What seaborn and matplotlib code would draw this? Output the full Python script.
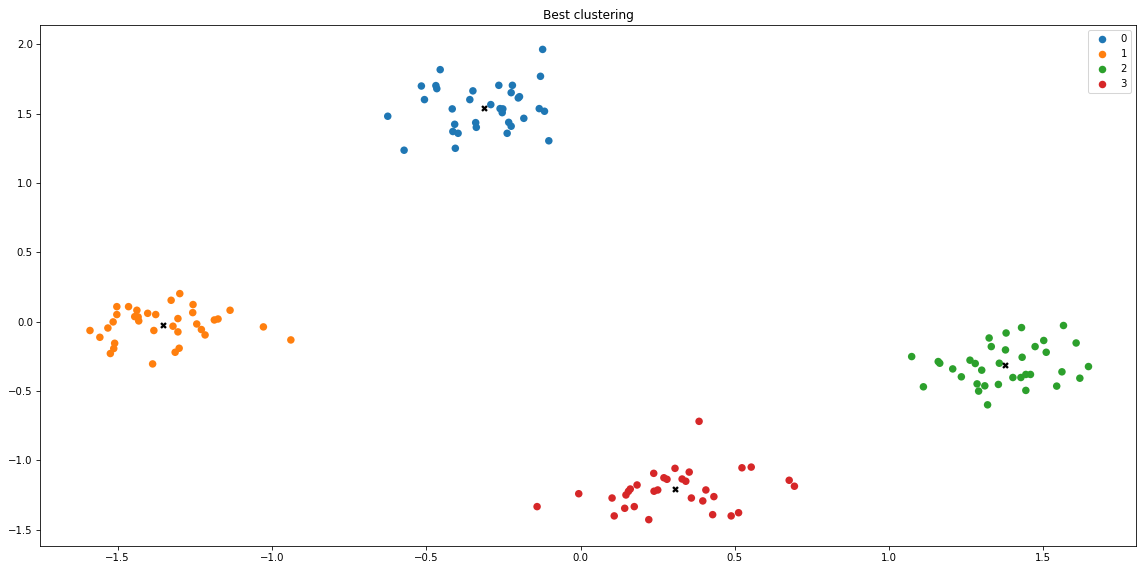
import numpy as np
import pandas as pd
import matplotlib
matplotlib.use("Agg")
import matplotlib.pyplot as plt
import seaborn as sns

# Cluster 0
x0 = [-0.123, -0.455, -0.130, -0.516, -0.469, -0.466, -0.265, -0.221, -0.349, -0.225,
      -0.198, -0.202, -0.506, -0.359, -0.291, -0.625, -0.416, -0.261, -0.252, -0.254,
      -0.134, -0.117, -0.184, -0.408, -0.340, -0.338, -0.233, -0.225, -0.414, -0.397,
      -0.238, -0.103, -0.572, -0.406]
y0 = [1.964, 1.818, 1.770, 1.700, 1.703, 1.681, 1.705, 1.705, 1.665, 1.652,
      1.623, 1.614, 1.602, 1.602, 1.566, 1.482, 1.535, 1.537, 1.535, 1.508,
      1.537, 1.518, 1.467, 1.424, 1.436, 1.402, 1.438, 1.410, 1.372, 1.359,
      1.359, 1.305, 1.237, 1.251]

# Cluster 1
x1 = [-1.299, -1.327, -1.503, -1.465, -1.256, -1.438, -1.503, -1.403, -1.377, -1.445,
      -1.434, -1.432, -1.257, -1.136, -1.187, -1.175, -1.305, -1.515, -1.321, -1.244,
      -1.590, -1.532, -1.383, -1.305, -1.229, -1.217, -1.028, -1.558, -0.939, -1.510,
      -1.513, -1.524, -1.301, -1.314, -1.387]
y1 = [0.203, 0.155, 0.109, 0.109, 0.124, 0.083, 0.052, 0.061, 0.052, 0.037,
      0.035, 0.006, 0.066, 0.083, 0.013, 0.020, 0.023, -0.001, -0.032, -0.016,
      -0.063, -0.045, -0.063, -0.073, -0.056, -0.095, -0.037, -0.112, -0.131, -0.155,
      -0.193, -0.229, -0.191, -0.220, -0.304]

# Cluster 2
x2 = [1.565, 1.429, 1.379, 1.324, 1.606, 1.501, 1.331, 1.473, 1.377, 1.509,
      1.073, 1.431, 1.159, 1.164, 1.262, 1.279, 1.357, 1.206, 1.300, 1.646,
      1.560, 1.234, 1.401, 1.427, 1.443, 1.458, 1.618, 1.285, 1.310, 1.354,
      1.543, 1.111, 1.290, 1.443, 1.319]
y2 = [-0.027, -0.042, -0.081, -0.117, -0.153, -0.135, -0.179, -0.179, -0.203, -0.220,
      -0.251, -0.256, -0.287, -0.299, -0.277, -0.301, -0.299, -0.340, -0.349, -0.323,
      -0.361, -0.397, -0.402, -0.402, -0.380, -0.380, -0.407, -0.448, -0.462, -0.452,
      -0.464, -0.469, -0.500, -0.495, -0.599]

# Cluster 3
x3 = [0.384, 0.523, 0.553, 0.306, 0.352, 0.237, 0.270, 0.280, 0.329, 0.341,
      0.183, 0.676, 0.693, 0.161, 0.155, 0.147, 0.238, 0.250, 0.406, -0.006,
      0.102, 0.359, 0.432, 0.396, -0.141, 0.143, 0.174, 0.428, 0.512, 0.488,
      0.109, 0.221]
y3 = [-0.718, -1.053, -1.048, -1.057, -1.084, -1.093, -1.125, -1.136, -1.134, -1.150,
      -1.177, -1.143, -1.186, -1.206, -1.223, -1.249, -1.222, -1.213, -1.213, -1.240,
      -1.271, -1.271, -1.261, -1.292, -1.333, -1.345, -1.333, -1.391, -1.377, -1.400,
      -1.400, -1.427]

# Cluster centres
cx = [-0.312, -1.353, 1.377, 0.306]
cy = [1.544, -0.023, -0.313, -1.208]

frames = []
for label, (xs, ys) in enumerate([(x0, y0), (x1, y1), (x2, y2), (x3, y3)]):
    frames.append(pd.DataFrame({"x": xs, "y": ys, "cluster": label}))
df = pd.concat(frames, ignore_index=True)

DPI = 73
W, H = 1137, 564
fig = plt.figure(figsize=(W / DPI, H / DPI), dpi=DPI)
ax = fig.add_axes([40 / W, 1 - 546 / H, 1096 / W, 521 / H])

sns.scatterplot(data=df, x="x", y="y", hue="cluster", palette="tab10",
                s=55, linewidth=0, ax=ax)
ax.scatter(cx, cy, marker="X", color="black", s=42, linewidths=0, zorder=3)

ax.set_xlim(-1.752, 1.80)
ax.set_ylim(-1.617, 2.14)
ax.set_xticks([-1.5, -1.0, -0.5, 0.0, 0.5, 1.0, 1.5])
ax.set_yticks([-1.5, -1.0, -0.5, 0.0, 0.5, 1.0, 1.5, 2.0])
ax.set_xlabel("")
ax.set_ylabel("")
ax.set_title("Best clustering")
ax.legend(loc="upper right", title=None)

fig.savefig("out.png", dpi=DPI)
